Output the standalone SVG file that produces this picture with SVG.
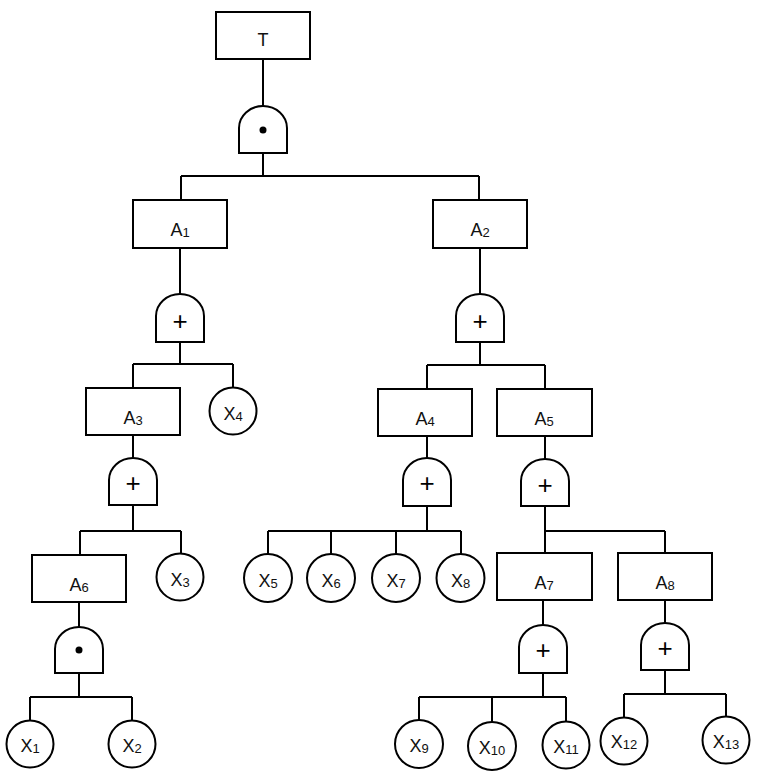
<svg xmlns="http://www.w3.org/2000/svg" width="760" height="776" viewBox="0 0 760 776">
<style>
.box{fill:#fff;stroke:#000;stroke-width:2}
.gate{fill:#fff;stroke:#000;stroke-width:2}
.ev{fill:#fff;stroke:#000;stroke-width:2}
.ln{fill:none;stroke:#000;stroke-width:2}
.lbl{font-family:"Liberation Sans",Arial,sans-serif;font-size:18px;fill:#111;text-anchor:middle}
.sub{font-size:13px}
.op{font-family:"Liberation Sans",Arial,sans-serif;font-size:26px;fill:#000;text-anchor:middle}
</style>
<rect width="760" height="776" fill="#fff"/>
<g id="connectors">
<path class="ln" d="M263,59V106 M263,153V176 M181,176H479 M181,176V200 M479,176V200"/>
<path class="ln" d="M180,248V294 M180,342V364 M133,364H233 M133,364V388 M233,364V388"/>
<path class="ln" d="M480,248V294 M480,342V365 M427,365H545 M427,365V389 M545,365V389"/>
<path class="ln" d="M133,435V458 M133,505V531 M80,531H181 M80,531V555 M181,531V554"/>
<path class="ln" d="M427,436V458 M427,506V531 M268,531H461 M268,531V554 M331,531V554 M396,531V554 M461,531V554"/>
<path class="ln" d="M545,436V459 M545,506V553 M545,531H665 M665,531V553"/>
<path class="ln" d="M79,602V627 M79,673V697 M30,697H132 M30,697V720 M132,697V720"/>
<path class="ln" d="M543,600V625 M543,673V697 M419,697H566 M419,697V720 M492,697V722 M566,697V721"/>
<path class="ln" d="M665,600V623 M665,670V694 M624,694H726 M624,694V717 M726,694V716"/>
</g>
<g id="T"><rect class="box" x="216" y="12" width="94" height="47"/><text class="lbl" x="263" y="46">T</text></g>
<g id="G_T"><path class="gate" d="M239,153V128A24,22 0 0 1 287,128V153Z"/><circle cx="263" cy="130" r="3.5" fill="#000"/></g>
<g id="A1"><rect class="box" x="133" y="200" width="94" height="48"/><text class="lbl" x="180" y="236">A<tspan class="sub" dy="1">1</tspan></text></g>
<g id="A2"><rect class="box" x="433" y="200" width="94" height="48"/><text class="lbl" x="480" y="236">A<tspan class="sub" dy="1">2</tspan></text></g>
<g id="G_A1"><path class="gate" d="M156,342V316A24,22 0 0 1 204,316V342Z"/><text class="op" x="180" y="330">+</text></g>
<g id="G_A2"><path class="gate" d="M456,342V316A24,22 0 0 1 504,316V342Z"/><text class="op" x="480" y="330">+</text></g>
<g id="A3"><rect class="box" x="86" y="388" width="94" height="47"/><text class="lbl" x="133" y="424">A<tspan class="sub" dy="1">3</tspan></text></g>
<g id="X4"><circle class="ev" cx="233" cy="411" r="23.5"/><text class="lbl" x="233" y="420">X<tspan class="sub" dy="1">4</tspan></text></g>
<g id="A4"><rect class="box" x="378" y="389" width="94" height="47"/><text class="lbl" x="425" y="425">A<tspan class="sub" dy="1">4</tspan></text></g>
<g id="A5"><rect class="box" x="497" y="389" width="95" height="47"/><text class="lbl" x="544" y="425">A<tspan class="sub" dy="1">5</tspan></text></g>
<g id="G_A3"><path class="gate" d="M109,505V480A24,22 0 0 1 157,480V505Z"/><text class="op" x="133" y="492">+</text></g>
<g id="G_A4"><path class="gate" d="M403,506V480A24,22 0 0 1 451,480V506Z"/><text class="op" x="427" y="492">+</text></g>
<g id="G_A5"><path class="gate" d="M521,506V481A24,22 0 0 1 569,481V506Z"/><text class="op" x="545" y="494">+</text></g>
<g id="A6"><rect class="box" x="32" y="555" width="94" height="47"/><text class="lbl" x="79" y="591">A<tspan class="sub" dy="1">6</tspan></text></g>
<g id="X3"><circle class="ev" cx="180" cy="577" r="23.5"/><text class="lbl" x="180" y="586">X<tspan class="sub" dy="1">3</tspan></text></g>
<g id="X5"><circle class="ev" cx="268" cy="578" r="24"/><text class="lbl" x="268" y="587">X<tspan class="sub" dy="1">5</tspan></text></g>
<g id="X6"><circle class="ev" cx="331" cy="578" r="24"/><text class="lbl" x="331" y="587">X<tspan class="sub" dy="1">6</tspan></text></g>
<g id="X7"><circle class="ev" cx="396" cy="578" r="24"/><text class="lbl" x="396" y="587">X<tspan class="sub" dy="1">7</tspan></text></g>
<g id="X8"><circle class="ev" cx="460.5" cy="578" r="24"/><text class="lbl" x="460.5" y="587">X<tspan class="sub" dy="1">8</tspan></text></g>
<g id="A7"><rect class="box" x="497" y="553" width="95" height="47"/><text class="lbl" x="544" y="589">A<tspan class="sub" dy="1">7</tspan></text></g>
<g id="A8"><rect class="box" x="618" y="553" width="94" height="47"/><text class="lbl" x="665" y="589">A<tspan class="sub" dy="1">8</tspan></text></g>
<g id="G_A6"><path class="gate" d="M55,673V649A24,22 0 0 1 103,649V673Z"/><circle cx="79" cy="650" r="3.5" fill="#000"/></g>
<g id="G_A7"><path class="gate" d="M519,673V647A24,22 0 0 1 567,647V673Z"/><text class="op" x="543" y="659">+</text></g>
<g id="G_A8"><path class="gate" d="M641,670V645A24,22 0 0 1 689,645V670Z"/><text class="op" x="665" y="657">+</text></g>
<g id="X1"><circle class="ev" cx="30" cy="744" r="23.5"/><text class="lbl" x="30" y="752">X<tspan class="sub" dy="1">1</tspan></text></g>
<g id="X2"><circle class="ev" cx="132" cy="744" r="23.5"/><text class="lbl" x="132" y="752">X<tspan class="sub" dy="1">2</tspan></text></g>
<g id="X9"><circle class="ev" cx="419" cy="744" r="24"/><text class="lbl" x="419" y="752">X<tspan class="sub" dy="1">9</tspan></text></g>
<g id="X10"><circle class="ev" cx="492" cy="746" r="24"/><text class="lbl" x="492" y="754">X<tspan class="sub" dy="1">10</tspan></text></g>
<g id="X11"><circle class="ev" cx="566" cy="745" r="23.5"/><text class="lbl" x="566" y="753">X<tspan class="sub" dy="1">11</tspan></text></g>
<g id="X12"><circle class="ev" cx="624" cy="741" r="23.5"/><text class="lbl" x="624" y="748">X<tspan class="sub" dy="1">12</tspan></text></g>
<g id="X13"><circle class="ev" cx="726" cy="740" r="23.5"/><text class="lbl" x="726" y="748">X<tspan class="sub" dy="1">13</tspan></text></g>
</svg>
